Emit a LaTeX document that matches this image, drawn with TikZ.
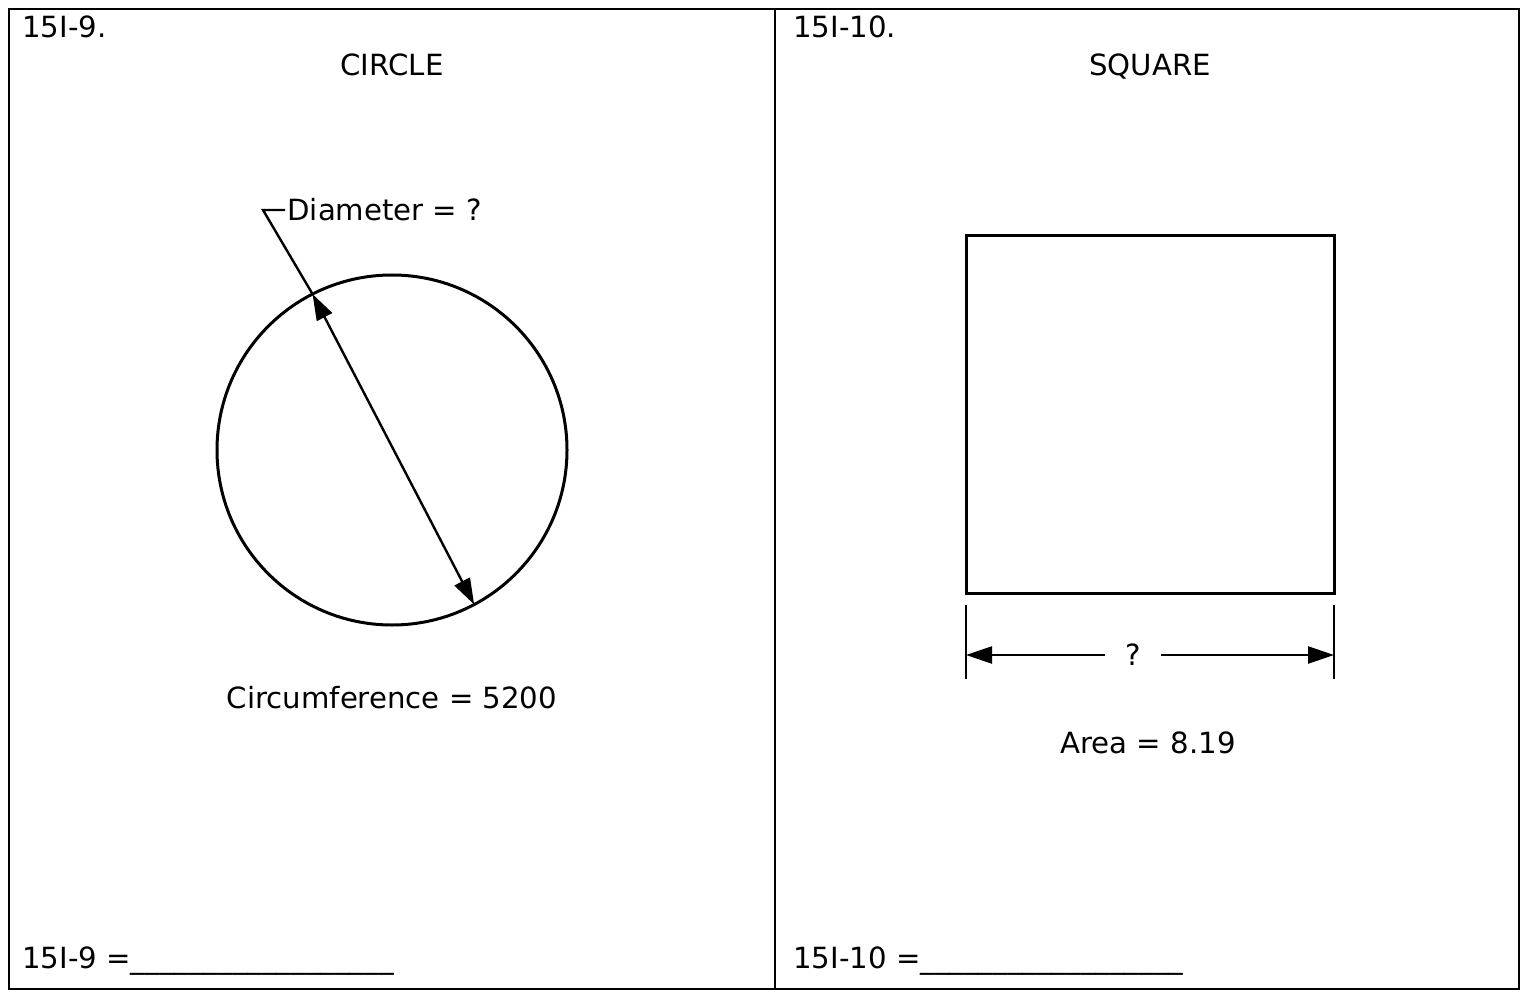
\documentclass[tikz,border=0pt]{standalone}
\usepackage{fontspec}
\setmainfont{DejaVu Sans}
\usetikzlibrary{arrows.meta, positioning}
\tikzset{every node/.style={font=\fontsize{14.6}{17}\selectfont}}

\begin{document}
\begin{tikzpicture}[
  x=0.5pt, y=-0.5pt,
  framebox/.style={draw, line width=1.2pt},
  headnode/.style={anchor=base west, inner sep=0pt},
  titlenode/.style={anchor=base, inner sep=0pt},
  answernode/.style={anchor=base west, inner sep=0pt},
  shapeline/.style={draw, line width=1.5pt},
  dimline/.style={line width=1.2pt, -{Triangle[length=13pt, width=8.5pt]}},
  extline/.style={line width=1.2pt}
]
  \useasboundingbox (0,0) rectangle (1535,994);
  % frame
  \draw[framebox] (9,9) rectangle (1519,989);
  \draw[framebox] (775,9) -- (775,989);

  % left panel: circle
  \node[headnode] (h9) at (22,38) {15I-9.};
  \node[titlenode] (tcirc) at (392,76) {CIRCLE};
  \node[shapeline, circle, minimum size=175pt, inner sep=0pt, outer sep=0pt] (circ) at (392,450) {};
  \node[anchor=west, inner sep=1pt] (dlab) at (285,210) {Diameter = ?};
  \coordinate (knee) at (263,210);
  \draw[dimline, {Triangle[length=13pt, width=8.5pt]}-{Triangle[length=13pt, width=8.5pt]}] (circ.117.8) -- (circ.-62.2);
  \draw[extline] (circ.117.8) -- (knee) -- (dlab.west);
  \node[titlenode] (circum) at (392,708) {Circumference = 5200};
  \node[answernode] (a9) at (22,968) {15I-9 =\_\_\_\_\_\_\_\_\_\_\_\_\_\_\_\_\_\_};

  % right panel: square
  \node[headnode] (h10) at (793,38) {15I-10.};
  \node[titlenode] (tsq) at (1150,76) {SQUARE};
  \node[shapeline, rectangle, minimum width=184pt, minimum height=178.5pt, inner sep=0pt, outer sep=0pt] (sq) at (1150,414.5) {};
  \coordinate (extLt) at (966,605);
  \coordinate (extLb) at (966,679);
  \coordinate (extRt) at (1334,605);
  \coordinate (extRb) at (1334,679);
  \draw[extline] (extLt) -- (extLb);
  \draw[extline] (extRt) -- (extRb);
  \node[inner xsep=10pt, inner ysep=0pt] (qmark) at (1133,655) {?};
  \coordinate (dimL) at (966,655);
  \coordinate (dimR) at (1334,655);
  \draw[dimline] (qmark.west) -- (dimL);
  \draw[dimline] (qmark.east) -- (dimR);
  \node[titlenode] (area) at (1148,753) {Area = 8.19};
  \node[answernode] (a10) at (793,968) {15I-10 =\_\_\_\_\_\_\_\_\_\_\_\_\_\_\_\_\_\_};
\end{tikzpicture}
\end{document}
